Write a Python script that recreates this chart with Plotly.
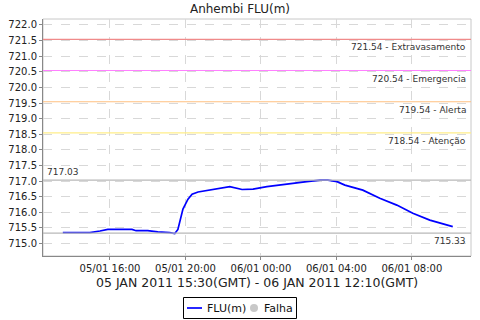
import plotly.graph_objects as go

# ---- data ----
times = ["2011-01-05 13:30", "2011-01-05 14:56", "2011-01-05 15:28", "2011-01-05 15:53",
         "2011-01-05 17:10", "2011-01-05 17:23", "2011-01-05 18:00", "2011-01-05 18:32",
         "2011-01-05 19:10", "2011-01-05 19:26", "2011-01-05 19:36", "2011-01-05 19:52",
         "2011-01-05 20:08", "2011-01-05 20:21", "2011-01-05 20:40", "2011-01-05 21:27",
         "2011-01-05 22:21", "2011-01-05 23:00", "2011-01-05 23:35", "2011-01-06 00:19",
         "2011-01-06 01:23", "2011-01-06 02:26", "2011-01-06 03:08", "2011-01-06 03:33",
         "2011-01-06 04:02", "2011-01-06 04:27", "2011-01-06 05:24", "2011-01-06 06:18",
         "2011-01-06 07:12", "2011-01-06 08:03", "2011-01-06 08:57", "2011-01-06 10:10"]
levels = [715.35, 715.35, 715.40, 715.45,
          715.45, 715.41, 715.41, 715.37,
          715.35, 715.32, 715.45, 716.10,
          716.42, 716.58, 716.65, 716.74,
          716.82, 716.73, 716.74, 716.82,
          716.89, 716.98, 717.03, 717.03,
          716.98, 716.87, 716.71, 716.45,
          716.23, 715.97, 715.75, 715.54]

threshold_values = [721.54, 720.54, 719.54, 718.54]
threshold_names = ["Extravasamento", "Emergencia", "Alerta", "Atenção"]
threshold_colors = ["#f08a8a", "#ff80ff", "#ffc080", "#ffee88"]

max_value = 717.03
min_value = 715.33

title = "Anhembi FLU(m)"
subtitle = "05 JAN 2011 15:30(GMT) - 06 JAN 2011 12:10(GMT)"
series_names = ["FLU(m)", "Falha"]
y_ticks = [715.0 + 0.5 * i for i in range(15)]
x_tick_vals = ["2011-01-05 16:00", "2011-01-05 20:00", "2011-01-06 00:00",
               "2011-01-06 04:00", "2011-01-06 08:00"]
x_tick_text = ["05/01 16:00", "05/01 20:00", "06/01 00:00", "06/01 04:00", "06/01 08:00"]

FONT = "DejaVu Sans"
W, H = 480, 320
ML, MR, MT, MB = 43, 9, 19, 64
PW, PH = W - ML - MR, H - MT - MB


def px(xp):
    return (xp - ML) / PW


def py(yp):
    return (H - MB - yp) / PH


fig = go.Figure()
fig.add_trace(go.Scatter(x=times, y=levels, mode="lines", name=series_names[0],
                         line=dict(color="#0000ff", width=1.7), showlegend=False))
fig.add_trace(go.Scatter(x=[None], y=[None], mode="markers", name=series_names[1],
                         marker=dict(color="#c0c0c0", size=8), showlegend=False))

shapes = []
annotations = []
for v, n, c in zip(threshold_values, threshold_names, threshold_colors):
    shapes.append(dict(type="line", xref="paper", x0=0, x1=1, yref="y", y0=v, y1=v,
                       line=dict(color=c, width=1.2), layer="above"))
    annotations.append(dict(xref="paper", x=0.993, yref="y", y=v, xanchor="right",
                            yanchor="top", yshift=-1, text=f"{v:.2f} - {n}", showarrow=False,
                            font=dict(family=FONT, size=9, color="#333333")))
for v, xpos, anchor, ya in [(max_value, 0.005, "left", "bottom"), (min_value, 0.993, "right", "top")]:
    shapes.append(dict(type="line", xref="paper", x0=0, x1=1, yref="y", y0=v, y1=v,
                       line=dict(color="#b8b8b8", width=1.2), layer="above"))
    annotations.append(dict(xref="paper", x=xpos, yref="y", y=v, xanchor=anchor,
                            yanchor=ya, yshift=1 if ya == "bottom" else -1,
                            text=f"{v:.2f}", showarrow=False,
                            font=dict(family=FONT, size=9, color="#333333")))

annotations.append(dict(xref="paper", yref="paper", x=0.5, y=-0.11, xanchor="center",
                        yanchor="middle", text=subtitle, showarrow=False,
                        font=dict(family=FONT, size=12.5, color="#222222")))

# ---- legend box (drawn by hand to match the compact original legend) ----
shapes.append(dict(type="rect", xref="paper", yref="paper", x0=px(183.5), x1=px(296.5),
                   y0=py(318.5), y1=py(297.5), line=dict(color="black", width=1),
                   fillcolor="white", layer="above"))
shapes.append(dict(type="line", xref="paper", yref="paper", x0=px(187), x1=px(202),
                   y0=py(308), y1=py(308), line=dict(color="#0000ff", width=1.7)))
shapes.append(dict(type="circle", xref="paper", yref="paper", x0=px(250), x1=px(258),
                   y0=py(312), y1=py(304), line=dict(color="#c8c8c8", width=0),
                   fillcolor="#c8c8c8"))
annotations.append(dict(xref="paper", yref="paper", x=px(205), y=py(308), xanchor="left",
                        yanchor="middle", text=series_names[0], showarrow=False,
                        font=dict(family=FONT, size=11, color="#111111")))
annotations.append(dict(xref="paper", yref="paper", x=px(262), y=py(308), xanchor="left",
                        yanchor="middle", text=series_names[1], showarrow=False,
                        font=dict(family=FONT, size=11, color="#111111")))

fig.update_layout(
    width=W, height=H,
    margin=dict(l=ML, r=MR, t=MT, b=MB, autoexpand=False),
    paper_bgcolor="white", plot_bgcolor="white",
    title=dict(text=title, x=0.5, xanchor="center", y=1 - 9 / 320, yanchor="middle",
               font=dict(family=FONT, size=12, color="#222222")),
    font=dict(family=FONT, size=10, color="#333333"),
    shapes=shapes, annotations=annotations,
    showlegend=False,
    xaxis=dict(range=["2011-01-05 12:27", "2011-01-06 11:08"],
               tickvals=x_tick_vals, ticktext=x_tick_text, automargin=False,
               showgrid=True, gridcolor="#d8d8d8", griddash="dash", gridwidth=1,
               showline=True, linecolor="#888888", linewidth=1, mirror=False,
               ticks="outside", ticklen=3, tickcolor="#888888",
               tickfont=dict(family=FONT, size=10, color="#222222"), zeroline=False),
    yaxis=dict(range=[714.60, 722.19], tickvals=y_ticks, automargin=False,
               ticktext=[f"{t:.1f}" for t in y_ticks],
               showgrid=True, gridcolor="#d8d8d8", griddash="dash", gridwidth=1,
               showline=True, linecolor="#888888", linewidth=1,
               ticks="outside", ticklen=3, tickcolor="#888888",
               tickfont=dict(family=FONT, size=10, color="#222222"), zeroline=False),
)
# light frame on top and right
fig.add_shape(type="rect", xref="paper", yref="paper", x0=0, x1=1, y0=0, y1=1,
              line=dict(color="#c8c8c8", width=1), layer="below")

fig.write_html("out.html")
